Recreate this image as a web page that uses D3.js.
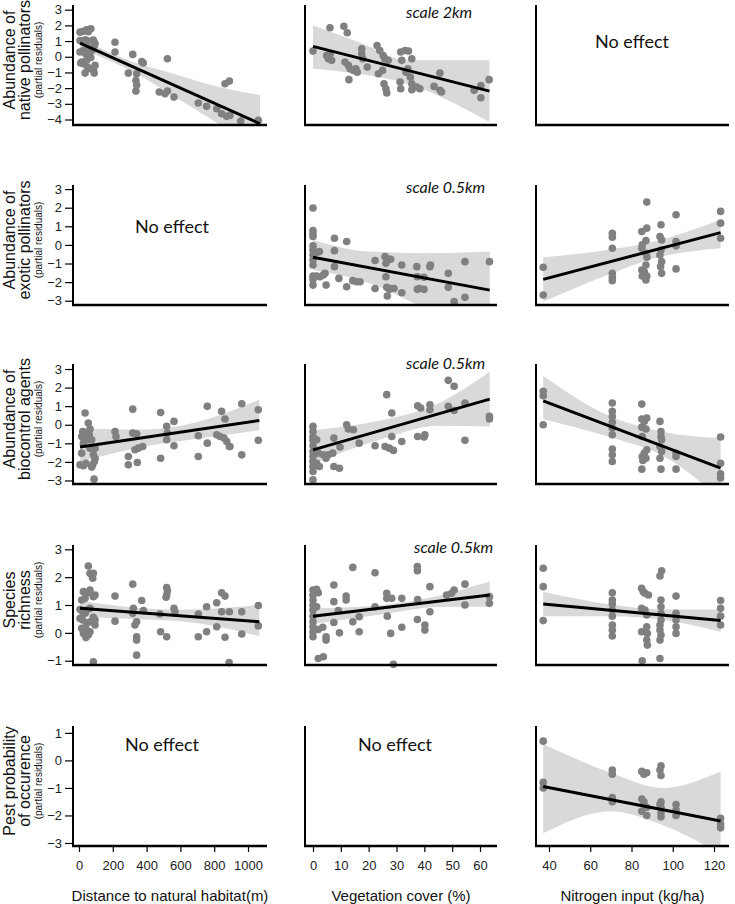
<!DOCTYPE html>
<html>
<head>
<meta charset="utf-8">
<script src="https://cdn.jsdelivr.net/npm/d3@7"></script>
<style>
    body { margin: 0; background: #fff; }
    svg text { font-family: "Liberation Sans", Arial, Helvetica, sans-serif; }
</style>
</head>
<body>
<svg id="chart" width="735" height="904"></svg>
<script>
// ---- labels / ticks ----
var rowLabels = [
    ['Abundance of', 'native pollinators'],
    ['Abundance of', 'exotic pollinators'],
    ['Abundance of', 'biocontrol agents'],
    ['Species', 'richness'],
    ['Pest probability', 'of occurence']
];
var subLabel = '(partial residuals)';
var xTitles = ['Distance to natural habitat(m)', 'Vegetation cover (%)', 'Nitrogen input (kg/ha)'];
var distTicks = [0, 200, 400, 600, 800, 1000];
var vegTicks = [0, 10, 20, 30, 40, 50, 60];
var nitTicks = [40, 60, 80, 100, 120];
var yTicks = [
    [3, 2, 1, 0, -1, -2, -3, -4],
    [3, 2, 1, 0, -1, -2, -3],
    [3, 2, 1, 0, -1, -2, -3],
    [3, 2, 1, 0, -1],
    [1, 0, -1, -2, -3]
];
var noEffectCells = [[0, 2], [1, 0], [4, 0], [4, 1]];
var scaleNotes = [[0, 'scale 2km'], [1, 'scale 0.5km'], [2, 'scale 0.5km'], [3, 'scale 0.5km']];

// ---- partial residuals [x, y] ----
var nativeDist = [[6,1.57],[26,1.63],[45,1.72],[70,1.78],[55,1.6],[6,1.04],[36,1.08],[55,1.0],[85,1.06],[95,0.85],[90,0.7],
    [6,0.3],[26,0.4],[60,0.5],[75,0.4],[40,0.2],[16,-0.34],[45,-0.23],[70,-0.05],[95,-0.55],[85,-0.87],
    [36,-1.04],[90,-1.04],[26,-0.45],[50,-0.66],[65,-0.75],[10,-0.4],[213,0.93],[213,0.3],
    [318,0.15],[292,-1.04],[341,-1.08],[337,-1.51],[341,-1.8],[337,-2.19],[371,-0.3],[380,-0.4],
    [475,-2.25],[509,-2.36],[523,-2.19],[562,-2.57],[523,-0.13],[706,-2.95],[755,-3.16],[815,-3.31],
    [844,-3.63],[864,-1.72],[890,-1.55],[874,-3.8],[893,-3.74],[957,-4.1],[1061,-4.05]];
var nativeVeg = [[0,0.36],[6.1,1.85],[11.1,1.95],[12.3,1.53],[4.9,0.08],[5.5,-0.13],[6.7,-0.23],[6.2,0.19],
    [11.5,-0.34],[12.7,-0.55],[13.3,-0.76],[14.5,-0.87],[12.9,-1.46],[15.4,-0.76],[15.9,-0.98],
    [17.5,0.51],[17.5,0.19],[17.9,-0.13],[19.5,-0.66],[23,0.72],[24,0.4],[25.2,0.08],[25.8,-0.13],[27,-0.23],
    [23.5,-1.08],[25,-0.87],[25.5,-1.72],[26.2,-2.04],[26.5,-2.31],[31.5,0.3],[31.9,-0.23],[33.1,0.4],
    [34.3,0.36],[35.5,-0.13],[31.3,-1.61],[31.5,-2.04],[35,-1.3],[35.5,-1.72],[35.5,-2.1],[37.3,-1.93],
    [38.4,-2.04],[33.4,-0.98],[34.1,-0.76],[43.5,-1.89],[45.6,-1.04],[45.6,-2.14],[46.2,-2.25],
    [57.9,-2.14],[60.3,-1.83],[60.3,-2.61],[63.3,-1.46]];
var exoticVeg = [[0,1.98],[0,0.77],[0,0.59],[0,0.45],[0,-0.05],[0,-0.27],[0,-0.54],[0,-0.81],[0,-1.08],
    [0,-1.67],[0,-1.85],[0,-2.16],[1.3,-0.41],[2.3,-0.36],[1.3,-1.67],[2.5,-1.71],[3.7,-1.62],[4.3,-1.53],
    [4.7,-2.16],[7.7,0.36],[7.7,-0.31],[7.7,-1.17],[9.3,-1.8],[12.1,0.18],[12.1,-2.25],[14.3,-1.92],
    [15.7,-1.98],[16.9,-1.98],[22.3,-0.84],[22.3,-2.34],[25.9,-0.63],[26.2,-0.99],[27.1,-0.77],[27.9,-0.77],
    [26.2,-1.71],[26.5,-2.28],[27.5,-2.39],[27.9,-2.34],[26.7,-2.75],[29.1,-2.34],[31.9,-1.08],[31.9,-2.57],
    [37.3,-1.17],[37.5,-1.71],[37.5,-2.39],[38.2,-2.34],[39.9,-1.74],[39.9,-2.39],[42,-1.17],[42.2,-1.08],
    [48.6,-1.53],[48.6,-2.28],[50.7,-3.05],[54.6,-0.9],[54.6,-2.82],[63.4,-0.9]];
var exoticNit = [[37.2,-1.2],[37.2,-2.69],[70.7,0.63],[70.7,0.41],[70.7,-0.18],[70.7,-1.53],[70.7,-1.74],[70.7,-1.92],
    [87.4,2.3],[85,0.72],[87.4,0.9],[85.2,0],[87,0.23],[85,-0.18],[87,-0.45],[87.5,-0.66],[87,-1.08],[85,-1.35],
    [85.2,-1.67],[87.4,-1.67],[87,-1.89],[86.2,-1.44],[94.3,1.08],[93.8,0.45],[94.6,0.27],[94.3,-0.27],
    [93.8,-0.54],[94.6,-0.9],[94.1,-1.17],[94.6,-1.53],[101.6,1.62],[101.6,0.18],[101.6,-0.05],[101.6,-1.29],
    [123.2,1.8],[123.2,1.17],[123.2,0.36]];
var bioDist = [[36,0.63],[22,-0.36],[16,-0.63],[26,-0.99],[16,-1.53],[6,-2.16],[26,-2.21],[41,-2.07],[55,0.09],
    [65,-0.23],[61,-0.54],[75,-0.81],[65,-1.26],[85,-1.62],[95,-1.8],[75,-2.28],[26,-0.41],[45,-0.63],[55,-0.81],
    [89,-2.93],[95,-1.26],[91,-1.98],[81,-2.16],[213,-0.36],[219,-0.63],[292,-1.71],[292,-2.16],[318,0.84],
    [318,-0.45],[341,-0.49],[345,-2.03],[331,-1.35],[351,-1.26],[377,-1.17],[483,0.66],[483,-1.8],
    [519,-0.09],[523,-0.45],[519,-0.81],[562,0.18],[562,-1.13],[706,-0.59],[706,-1.71],[759,0.99],[759,-0.99],
    [844,0.72],[864,0.31],[815,-0.54],[834,-0.63],[858,-0.72],[890,-1.17],[874,-0.9],[893,-1.17],
    [963,1.13],[963,-1.62],[1061,0.81],[1061,-0.84]];
var bioVeg = [[0,-0.09],[0,-0.36],[0,-0.63],[0,-0.84],[0,-1.13],[0,-1.44],[0,-1.71],[0,-1.98],[0,-2.25],[0,-2.52],
    [0,-2.96],[1.3,-0.81],[1.9,-1.53],[2.3,-2.25],[1.3,-2.07],[3.7,-1.62],[4.7,-1.8],[5.5,-1.62],[7.5,-0.72],
    [7.1,-1.53],[7.5,-2.25],[9.5,-2.34],[9.7,-1.2],[12.1,0],[12.7,-0.23],[14.5,-0.27],[16.6,-0.99],[22.3,-1.13],
    [26.5,1.62],[28.3,0.63],[25.9,-1.17],[27.4,-1.26],[28.9,-1.38],[28.3,-0.63],[31.9,-0.9],[37.6,1.02],
    [38.7,0.9],[42,1.08],[42,0.81],[37.6,-0.63],[39.9,-0.66],[40.2,-0.54],[48.6,2.39],[50.7,2.07],[48.6,0.99],
    [50.7,0.77],[54.6,1.17],[54.6,-0.84],[63.4,0.45],[63.4,0.31]];
var bioNit = [[37.2,1.8],[37.2,1.56],[37.2,0],[70.7,1.17],[70.7,0.72],[70.7,0.45],[70.7,0.13],[70.7,-0.18],
    [70.7,-0.54],[70.7,-1.31],[70.7,-1.62],[70.7,-1.98],[85,1.11],[85,0.31],[86.2,0.18],[87.4,0.36],[85,-0.13],
    [87,-0.23],[85.2,-0.63],[85.2,-1.71],[86.2,-1.53],[87,-1.8],[85,-2.39],[87.4,-1.35],[85.5,-1.92],
    [93.8,0.18],[94.3,-0.36],[94.3,-0.63],[93.8,-1.17],[94.6,-1.44],[93.8,-1.8],[94.3,-2.39],[94.6,-0.81],
    [101.6,-1.71],[101.6,-2.39],[101.6,-1.53],[123.2,-0.66],[123.2,-2.07],[123.2,-2.64],[123.2,-2.87]];
var richDist = [[55,2.4],[65,2.14],[75,2.08],[85,2.14],[81,1.96],[16,1.18],[36,1.24],[26,1.48],[55,1.44],[65,1.54],
    [85,1.3],[95,1.36],[6,0.84],[22,0.76],[36,0.7],[45,0.82],[65,0.88],[85,0.56],[95,0.46],[6,0.52],[22,0.46],
    [45,0.34],[65,0.4],[95,0.28],[16,0.16],[26,-0.02],[41,-0.17],[55,-0.08],[45,0.1],[65,0.04],[85,-1.04],
    [213,1.32],[213,0.42],[318,1.75],[322,0.88],[318,0.7],[331,0.28],[341,0.4],[341,-0.14],[341,-0.26],[341,-0.8],
    [371,1.16],[381,0.8],[479,0.68],[483,0.04],[519,-0.14],[519,1.63],[523,1.51],[519,1.36],[515,1.28],
    [562,0.88],[568,0.76],[706,0.68],[706,-0.14],[755,0.94],[755,0.04],[815,1.08],[815,0.22],[844,1.44],
    [864,1.32],[844,0.76],[864,-0.16],[890,0.76],[888,-1.07],[963,0.76],[963,-0.04],[1061,0.98],[1061,0.25]];
var richVeg = [[0,1.54],[0,1.36],[0,1.18],[0,1.0],[0,0.82],[0,0.6],[0,0.4],[0,0.22],[0,0.04],[0,-0.14],[1.3,1.56],
    [1.3,0.94],[1.9,1.44],[1.9,-0.92],[3.7,-0.86],[3.5,0.2],[4.7,-0.14],[4.7,-0.26],[1.9,0.12],[7.5,1.72],
    [7.5,1.12],[7.5,0.37],[9.1,0.8],[9.5,0],[11.9,1.32],[11.9,1.18],[14.3,2.35],[14.3,0.4],[16.6,0.58],
    [16.6,0.04],[22.3,2.16],[22.3,0.94],[26.5,1.42],[26.5,1.24],[26.7,0.6],[28.3,1.24],[27.9,-0.02],[31.9,1.24],
    [31.9,0.2],[28.9,-1.13],[37.5,2.38],[37.5,2.23],[37.6,1.2],[37.5,0.48],[40.2,0.28],[40.2,0.1],[42,1.66],
    [42,0.76],[48,1.36],[49.8,1.42],[50.7,1.54],[54.6,1.75],[54.6,1.0],[63.4,1.3],[63.4,1.06]];
var richNit = [[37.2,2.32],[37.2,1.66],[37.2,0.44],[70.7,1.44],[70.7,1.18],[70.7,1.04],[70.7,0.82],[70.7,0.6],
    [70.7,0.28],[70.7,0.1],[70.7,-0.11],[84.9,1.6],[85.7,1.48],[86.5,1.42],[88.2,1.36],[84.9,0.88],[86.5,0.82],
    [87.4,0.64],[84.9,0.04],[87.4,0.22],[87.7,-0.02],[87.4,-0.26],[87.7,-0.44],[85.2,-1.0],[94.6,2.23],
    [93.8,2.04],[94.3,1.18],[94.3,0.94],[94.3,0.7],[94.3,0.46],[93.8,0.28],[93.8,0.1],[94.3,-0.08],[93.8,-0.26],
    [93.8,-0.92],[101.6,1.32],[101.6,0.7],[101.6,0.46],[101.6,0.22],[101.6,-0.02],[123.2,1.16],[123.2,0.88],
    [123.2,0.6],[123.2,0.28]];
var pestNit = [[37.2,0.7],[37.2,-0.8],[37.2,-1.0],[70.7,-0.35],[70.7,-0.5],[70.7,-1.35],[70.7,-1.5],
    [85,-0.4],[86,-0.5],[87.4,-0.45],[85,-1.4],[86,-1.6],[87.4,-1.7],[85,-1.85],[87.4,-2.0],[86,-1.5],
    [94.3,-0.2],[94.3,-0.55],[93.8,-0.35],[94.3,-1.5],[94.3,-1.7],[94.3,-1.9],[94.3,-2.05],[93.8,-1.6],
    [101.6,-1.6],[101.6,-1.8],[101.6,-2.0],[123.2,-2.1],[123.2,-2.3],[123.2,-2.45]];

// ---- fitted lines [start, end] ----
var nativeDistFit = [[6,0.87],[1071,-4.27]];
var nativeVegFit = [[0,0.66],[63.4,-2.19]];
var exoticVegFit = [[0,-0.66],[63.5,-2.43]];
var exoticNitFit = [[37.2,-1.85],[123.2,0.66]];
var bioDistFit = [[6,-1.2],[1067,0.23]];
var bioVegFit = [[0,-1.35],[63.5,1.38]];
var bioNitFit = [[37.2,1.29],[123.2,-2.34]];
var richDistFit = [[6,0.88],[1067,0.4]];
var richVegFit = [[0,0.6],[63.5,1.36]];
var richNitFit = [[37.2,1.04],[123.2,0.44]];
var pestNitFit = [[37.2,-0.95],[123.2,-2.2]];

// ---- confidence bands [x, lower, upper] ----
var nativeDistBand = [[6,0.5,1.2],[300,-0.85,-0.25],[550,-2.45,-1.05],[800,-4.1,-1.85],[1071,-6.0,-2.45]];
var nativeVegBand = [[0,-0.76,2.0],[17,-1.1,0.9],[34.4,-1.75,-0.23],[63.4,-4.16,-0.23]];
var exoticVegBand = [[0,-1.35,0.27],[20.5,-2.07,-0.36],[42,-3.5,-0.45],[63.5,-4.58,-0.36]];
var exoticNitBand = [[37.2,-3.05,-0.66],[70,-1.55,-0.25],[90,-0.75,0.15],[123.2,-0.18,1.35]];
var bioDistBand = [[6,-2.0,-0.2],[400,-1.15,-0.25],[700,-0.75,0.15],[1067,-0.3,1.35]];
var bioVegBand = [[0,-2.1,-0.3],[25,-0.75,0.25],[45,-0.05,1.15],[63.5,-0.1,2.85]];
var bioNitBand = [[37.2,0.3,2.64],[70.7,-0.7,0.4],[94.3,-1.62,-0.36],[123.2,-4.0,-0.72]];
var richDistBand = [[6,0.6,1.15],[300,0.5,0.92],[600,0.42,0.83],[1067,-0.11,1.0]];
var richVegBand = [[0,0.32,0.88],[25,0.67,1.0],[45,0.93,1.33],[63.5,0.94,1.84]];
var richNitBand = [[37.2,0.6,1.48],[70,0.6,1.02],[95,0.47,0.85],[123.2,0.04,0.84]];
var pestNitBand = [[37.2,-2.65,0.6],[70,-1.85,-0.45],[95,-2.35,-1.0],[123.2,-3.4,-0.4]];

// ---- layout ----
var panelH = 120;
var rowAxisY = [125, 305, 484, 665, 846];
var yDomains = [[-4.35, 3.3], [-3.23, 3.22], [-3.19, 3.27], [-1.154, 3.155], [-3.11, 1.25]];
var colAxisX = [73, 305, 536];
var colEnd = [267, 497, 729];
var xDomains = [[0, 1000], [0, 60], [40, 120]];
var xRanges = [[79, 248], [313, 480], [549, 714]];
var xTickSets = [distTicks, vegTicks, nitTicks];
var scalePos = [[406, 18], [406, 193], [406, 369], [414, 553]];
var noEffectPos = [[632, 48], [172, 233], [162, 751], [395, 751]];

var panels = [
    {row: 0, col: 0, pts: nativeDist, fit: nativeDistFit, band: nativeDistBand},
    {row: 0, col: 1, pts: nativeVeg, fit: nativeVegFit, band: nativeVegBand},
    {row: 1, col: 1, pts: exoticVeg, fit: exoticVegFit, band: exoticVegBand},
    {row: 1, col: 2, pts: exoticNit, fit: exoticNitFit, band: exoticNitBand},
    {row: 2, col: 0, pts: bioDist, fit: bioDistFit, band: bioDistBand},
    {row: 2, col: 1, pts: bioVeg, fit: bioVegFit, band: bioVegBand},
    {row: 2, col: 2, pts: bioNit, fit: bioNitFit, band: bioNitBand},
    {row: 3, col: 0, pts: richDist, fit: richDistFit, band: richDistBand},
    {row: 3, col: 1, pts: richVeg, fit: richVegFit, band: richVegBand},
    {row: 3, col: 2, pts: richNit, fit: richNitFit, band: richNitBand},
    {row: 4, col: 2, pts: pestNit, fit: pestNitFit, band: pestNitBand}
];

var svg = d3.select('#chart');
var defs = svg.append('defs');
var fmt = d3.format('d');

function xScale(c) {
    return d3.scaleLinear().domain(xDomains[c]).range(xRanges[c]);
}
function yScale(r) {
    return d3.scaleLinear().domain(yDomains[r]).range([rowAxisY[r], rowAxisY[r] - panelH]);
}

// data layers first, axes drawn on top
panels.forEach(function(p, i) {
    var x = xScale(p.col);
    var y = yScale(p.row);

    defs.append('clipPath')
        .attr('id', 'clip-' + i)
        .append('rect')
            .attr('x', colAxisX[p.col])
            .attr('y', rowAxisY[p.row] - panelH)
            .attr('width', colEnd[p.col] - colAxisX[p.col])
            .attr('height', panelH);

    var g = svg.append('g').attr('class', 'panel panel-' + i);

    var area = d3.area()
        .x(function(d) { return x(d[0]); })
        .y0(function(d) { return y(d[1]); })
        .y1(function(d) { return y(d[2]); })
        .curve(d3.curveMonotoneX);

    g.append('path')
        .attr('clip-path', 'url(#clip-' + i + ')')
        .attr('d', area(p.band))
        .attr('fill', '#d9d9d9');

    g.selectAll('circle')
        .data(p.pts)
        .enter().append('circle')
            .attr('cx', function(d) { return x(d[0]); })
            .attr('cy', function(d) { return y(d[1]); })
            .attr('r', 3.8)
            .attr('fill', '#808080');

    g.append('line')
        .attr('x1', x(p.fit[0][0])).attr('y1', y(p.fit[0][1]))
        .attr('x2', x(p.fit[1][0])).attr('y2', y(p.fit[1][1]))
        .attr('stroke', '#000')
        .attr('stroke-width', 3);
});

// axes for every cell
for (var r = 0; r < rowAxisY.length; r++) {
    for (var c = 0; c < colAxisX.length; c++) {
        var y = yScale(r);
        var x = xScale(c);

        // y axis line
        svg.append('line')
            .attr('x1', colAxisX[c]).attr('x2', colAxisX[c])
            .attr('y1', rowAxisY[r] - panelH).attr('y2', rowAxisY[r] + 1)
            .attr('stroke', '#000')
            .attr('stroke-width', 2);

        // x axis line
        svg.append('line')
            .attr('x1', colAxisX[c] - 1).attr('x2', colEnd[c])
            .attr('y1', rowAxisY[r]).attr('y2', rowAxisY[r])
            .attr('stroke', '#000')
            .attr('stroke-width', 2.5);

        if (c === 0) {
            var ay = svg.append('g')
                .attr('transform', 'translate(' + colAxisX[c] + ',0)')
                .call(d3.axisLeft(y).tickValues(yTicks[r]).tickFormat(fmt)
                    .tickSize(8).tickSizeOuter(0).tickPadding(3));
            ay.select('.domain').remove();
            ay.selectAll('.tick line').attr('stroke', '#000').attr('stroke-width', 1.2);
            ay.selectAll('.tick text')
                .attr('font-size', 13)
                .attr('fill', '#222')
                .style('font-family', '"Liberation Sans", Arial, sans-serif');
        }

        if (r === rowAxisY.length - 1) {
            var ax = svg.append('g')
                .attr('transform', 'translate(0,' + rowAxisY[r] + ')')
                .call(d3.axisBottom(x).tickValues(xTickSets[c]).tickFormat(fmt)
                    .tickSize(6).tickSizeOuter(0).tickPadding(9));
            ax.select('.domain').remove();
            ax.selectAll('.tick line').attr('stroke', '#000').attr('stroke-width', 1.2);
            ax.selectAll('.tick text')
                .attr('font-size', 13)
                .attr('fill', '#222')
                .style('font-family', '"Liberation Sans", Arial, sans-serif');
        }
    }
}

// row titles (rotated)
rowLabels.forEach(function(lines, r) {
    var g = svg.append('g')
        .attr('transform', 'translate(0,' + (rowAxisY[r] - 65) + ') rotate(-90)');
    g.append('text')
        .attr('x', 0).attr('y', 15)
        .attr('text-anchor', 'middle')
        .attr('font-size', 16)
        .attr('fill', '#111')
        .text(lines[0]);
    g.append('text')
        .attr('x', 0).attr('y', 30)
        .attr('text-anchor', 'middle')
        .attr('font-size', 16)
        .attr('fill', '#111')
        .text(lines[1]);
    g.append('text')
        .attr('x', 0).attr('y', 42)
        .attr('text-anchor', 'middle')
        .attr('font-size', 10)
        .attr('fill', '#111')
        .text(subLabel);
});

// x titles
xTitles.forEach(function(t, c) {
    svg.append('text')
        .attr('x', (colAxisX[c] + colEnd[c]) / 2)
        .attr('y', 901)
        .attr('text-anchor', 'middle')
        .attr('font-size', 15)
        .attr('fill', '#111')
        .text(t);
});

// annotations
noEffectCells.forEach(function(cell, i) {
    svg.append('text')
        .attr('x', noEffectPos[i][0])
        .attr('y', noEffectPos[i][1])
        .attr('text-anchor', 'middle')
        .attr('font-size', 18)
        .attr('fill', '#111')
        .style('font-family', 'Lato, "Open Sans", sans-serif')
        .text('No effect');
});

scaleNotes.forEach(function(n, i) {
    svg.append('text')
        .attr('x', scalePos[i][0])
        .attr('y', scalePos[i][1])
        .attr('font-size', 16)
        .attr('font-style', 'italic')
        .attr('fill', '#111')
        .style('font-family', 'Lato, "Open Sans", sans-serif')
        .text(n[1]);
});
</script>
</body>
</html>
